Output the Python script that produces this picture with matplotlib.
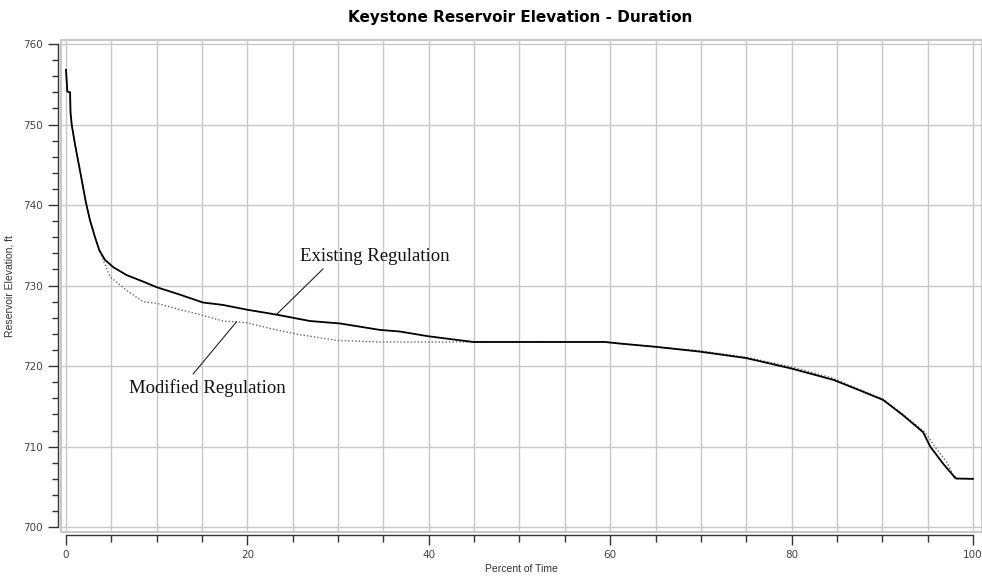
import matplotlib.pyplot as plt
from matplotlib.patches import Rectangle
from matplotlib.ticker import MultipleLocator

# Existing regulation (solid)
exist_pct = [0, 0.1, 0.15, 0.45, 0.5, 0.63, 1.0, 1.54, 2.2, 2.65, 3.2, 3.67, 4.3, 5.2,
             6.7, 8.5, 10, 12.5, 15.1, 17.3, 20, 23.2, 26.9, 30.2, 34.6, 36.8, 40,
             44.9, 50, 55, 59.4, 61.1, 65, 69.9, 75, 80, 84.6, 87.5, 90.1, 92.3,
             94.5, 95.3, 96.7, 98.1, 100]
exist_elev = [756.8, 755.0, 754.1, 754.0, 751.5, 750.0, 747.5, 744.3, 740.3, 738.1, 736.0,
              734.4, 733.2, 732.3, 731.3, 730.5, 729.8, 728.9, 727.9, 727.6, 727.0,
              726.4, 725.6, 725.3, 724.5, 724.3, 723.7, 723.0, 723.0, 723.0, 723.0,
              722.8, 722.4, 721.8, 721.0, 719.7, 718.3, 717.0, 715.8, 713.9, 711.8,
              710.0, 707.9, 706.05, 706.0]

# Modified regulation (dotted)
mod_pct = [0, 0.1, 0.15, 0.45, 0.5, 0.63, 1.0, 1.54, 2.2, 2.65, 3.2, 3.67, 4.85, 6.7,
           8.5, 10, 12.6, 15.1, 17.3, 19.9, 23.2, 25.8, 29.8, 34.6, 40, 45, 50, 55,
           59.4, 61.1, 65, 69.9, 75, 80, 84.6, 87.5, 90.1, 92.3, 94.7, 95.8, 97.1,
           97.8, 98.3, 100]
mod_elev = [756.8, 755.0, 754.1, 754.0, 751.5, 750.0, 747.5, 744.3, 740.3, 738.1, 736.0,
            734.4, 731.1, 729.4, 728.0, 727.8, 727.0, 726.3, 725.6, 725.4, 724.5,
            723.9, 723.2, 723.0, 723.0, 723.0, 723.0, 723.0, 723.0, 722.8, 722.4,
            721.9, 721.1, 719.9, 718.5, 717.1, 715.9, 714.0, 711.8, 710.0, 708.1,
            706.5, 706.0, 706.0]

fig = plt.figure(figsize=(9.82, 5.76), dpi=100)
ax = fig.add_axes([61 / 982, 44 / 576, 921 / 982, 492 / 576])

ax.plot(mod_pct, mod_elev, color='#666666', linestyle=(0, (1, 1.5)), linewidth=1.0, zorder=3)
ax.plot(exist_pct, exist_elev, color='black', linewidth=1.3, zorder=4)

ax.set_xlim(-0.55, 101.0)
ax.set_ylim(699.4, 760.5)

ax.xaxis.set_minor_locator(MultipleLocator(5))
ax.yaxis.set_minor_locator(MultipleLocator(2))
ax.set_xticks([0, 20, 40, 60, 80, 100])
ax.set_yticks([700, 710, 720, 730, 740, 750, 760])

ax.grid(True, which='major', axis='y', color='#c8c8c8', linewidth=1)
ax.grid(True, which='both', axis='x', color='#c8c8c8', linewidth=1)
ax.set_axisbelow(True)

# gray plot-area frame
ax.add_patch(Rectangle((0, 0), 1, 1, transform=ax.transAxes, fill=False,
                       edgecolor='#c8c8c8', linewidth=1.5, clip_on=False, zorder=1))

for s in ['top', 'right']:
    ax.spines[s].set_visible(False)
for s in ['left', 'bottom']:
    ax.spines[s].set_color('#333333')
    ax.spines[s].set_linewidth(1.0)
ax.spines['left'].set_position(('outward', 2.5))
ax.spines['bottom'].set_position(('outward', 2.5))
ax.spines['left'].set_bounds(700, 760)
ax.spines['bottom'].set_bounds(0, 100)

ax.tick_params(axis='both', which='major', length=7, width=1, color='#333333',
               labelsize=7.5, labelcolor='#444444')
ax.tick_params(axis='y', which='minor', length=4, width=1, color='#333333')
ax.tick_params(axis='x', which='minor', length=5, width=1, color='#333333')

ax.set_xlabel('Percent of Time', fontsize=7.5, color='#333333',
              family='Liberation Sans', labelpad=3)
ax.set_ylabel('Reservoir Elevation, ft', fontsize=7.5, color='#333333',
              family='Liberation Sans', labelpad=6)

fig.suptitle('Keystone Reservoir Elevation - Duration', x=0.53, y=0.982,
             fontsize=11, fontweight='bold')

ax.annotate('Existing Regulation', xy=(23.2, 726.4), xytext=(25.8, 733.6),
            fontsize=13.5, family='Liberation Serif', color='#111111',
            ha='left', va='center',
            arrowprops=dict(arrowstyle='-', color='#222222', linewidth=0.8,
                            relpos=(0.18, 0.0), shrinkA=1, shrinkB=0))
ax.annotate('Modified Regulation', xy=(18.8, 725.5), xytext=(7.0, 717.3),
            fontsize=13.5, family='Liberation Serif', color='#111111',
            ha='left', va='center',
            arrowprops=dict(arrowstyle='-', color='#222222', linewidth=0.8,
                            relpos=(0.38, 1.0), shrinkA=2, shrinkB=0))

fig.savefig('out.png', dpi=100)
